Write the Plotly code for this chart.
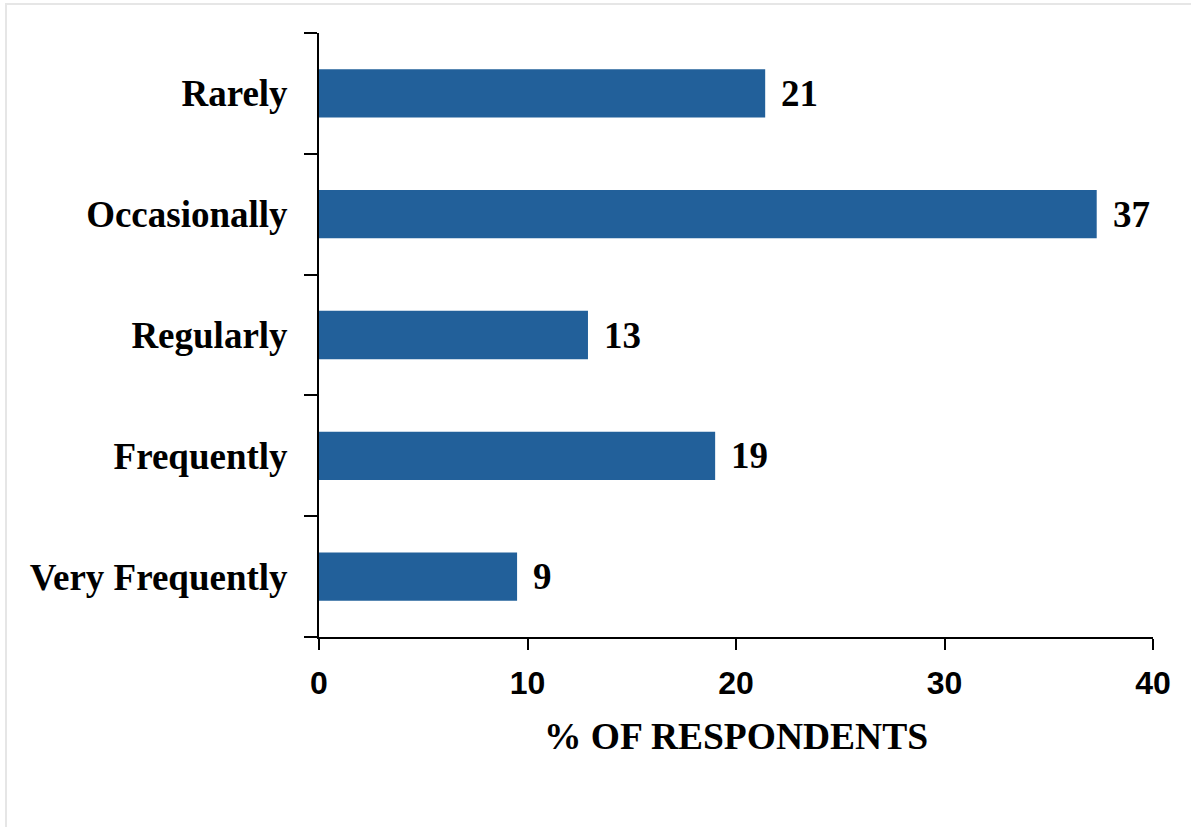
import plotly.graph_objects as go

categories = ["Very Frequently", "Frequently", "Regularly", "Occasionally", "Rarely"]
values = [9.5, 19.0, 12.9, 37.3, 21.4]
labels = ["9", "19", "13", "37", "21"]
x_ticks = [0, 10, 20, 30, 40]

BAR_COLOR = "#22609a"
SERIF = "Liberation Serif, Times New Roman, serif"
SANS = "Liberation Sans, Arial, sans-serif"

fig = go.Figure()
fig.add_trace(go.Bar(
    x=values, y=categories, orientation="h",
    marker=dict(color=BAR_COLOR, line=dict(width=0)),
    width=0.4, hoverinfo="skip",
))

for v, c, t in zip(values, categories, labels):
    fig.add_annotation(x=v, y=c, text=t, showarrow=False, xanchor="left",
                       xshift=14, yshift=0,
                       font=dict(family=SERIF, size=37, color="black", weight="bold"))

W, H = 1191, 827
L, R, T, B = 319, 38, 33, 190
pw, ph = W - L - R, H - T - B
# light grey frame around the figure
fig.add_shape(type="rect", xref="paper", yref="paper",
              x0=(6 - L) / pw, x1=(W + 5 - L) / pw,
              y0=(H - (H + 5) - B) / ph, y1=(H - 4 - B) / ph,
              line=dict(color="#e6e6e6", width=2), layer="below")

fig.update_layout(
    width=W, height=H,
    margin=dict(l=L, r=R, t=T, b=B, pad=0),
    paper_bgcolor="white", plot_bgcolor="white",
    showlegend=False,
    xaxis=dict(range=[0, 40], tickvals=x_ticks, ticks="outside", ticklen=11, tickwidth=2,
               tickcolor="black", showline=True, linecolor="black", linewidth=2,
               showgrid=False, zeroline=False, ticklabelstandoff=6,
               tickfont=dict(family=SANS, size=32, color="black", weight="bold"),
               title=dict(text="% OF RESPONDENTS", standoff=22,
                          font=dict(family=SERIF, size=37.5, color="black", weight="bold"))),
    yaxis=dict(categoryorder="array", categoryarray=categories, ticks="outside",
               tickson="boundaries", ticklen=13, tickwidth=2, tickcolor="black",
               showline=True, linecolor="black", linewidth=2, showgrid=False,
               ticklabelstandoff=22,
               tickfont=dict(family=SERIF, size=37, color="black", weight="bold")),
)

fig.write_html("out.html")
